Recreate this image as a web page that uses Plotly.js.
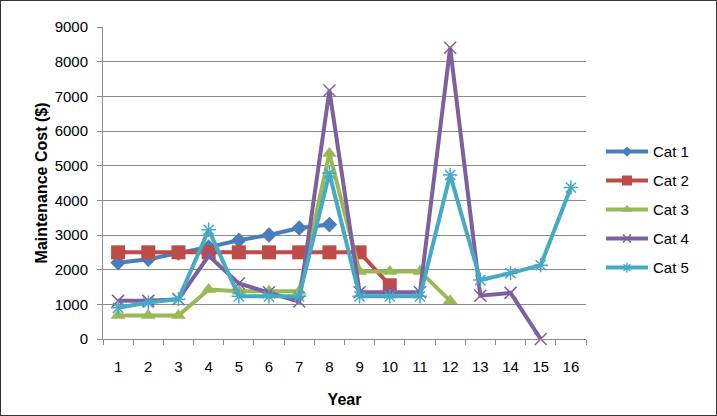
<!DOCTYPE html>
<html><head><meta charset="utf-8">
<script src="https://cdn.plot.ly/plotly-3.0.1.min.js"></script>
<style>
html,body{margin:0;padding:0;background:#fff;}
#wrap{position:relative;width:717px;height:416px;}
#chart{width:717px;height:416px;}
#frame{position:absolute;left:0;top:0;width:717px;height:416px;box-sizing:border-box;border:1px solid #333;pointer-events:none;}
</style></head>
<body>
<div id="wrap"><div id="chart"></div><div id="frame"></div></div>
<script>
const years = [1,2,3,4,5,6,7,8,9,10,11,12,13,14,15,16];
const tickLabels = ["1","2","3","4","5","6","7","8","9","10","11","12","13","14","15","16"];
const cat1 = [2200,2300,2480,2650,2850,3000,3200,3300];
const cat2 = [2500,2500,2500,2500,2500,2500,2500,2500,2500,1550];
const cat3 = [680,680,680,1430,1380,1380,1380,5350,1950,1950,1950,1100];
const cat4 = [1100,1100,1150,2400,1600,1350,1080,7170,1350,1350,1350,8400,1250,1330,0];
const cat5 = [900,1050,1150,3150,1230,1230,1230,4780,1230,1230,1230,4730,1700,1900,2130,4370];
const seriesNames = ["Cat 1","Cat 2","Cat 3","Cat 4","Cat 5"];

const series = [cat1,cat2,cat3,cat4,cat5];
const colors = ["#4a7ebb","#be4b48","#98b954","#7d60a0","#46aac5"];
const symbols = ["diamond","square","triangle-up","x-thin-open","asterisk-open"];
const sizes = [12,14,13,12,12];
const legendSizes = [8,10,9,8,8];
const boundaries = years.map(v => v - 0.5).concat([16.5]);

const traces = series.map((vals,i)=>({
  x: years.slice(0, vals.length),
  y: vals,
  name: seriesNames[i],
  showlegend: false,
  type: 'scatter',
  mode: 'lines+markers',
  line: {color: colors[i], width: 4},
  marker: {symbol: symbols[i], size: sizes[i], color: colors[i], line: {color: colors[i], width: (i>=3?1.5:0)}},
  cliponaxis: false
}));
// legend entries with smaller sample markers
series.forEach((vals,i)=>{
  traces.push({
    x: [null], y: [null], name: seriesNames[i], legendgroup: 'g'+i, showlegend: true,
    type: 'scatter', mode: 'lines+markers', hoverinfo: 'skip',
    line: {color: colors[i], width: 4},
    marker: {symbol: symbols[i], size: legendSizes[i], color: colors[i], line: {color: colors[i], width: (i>=3?1.5:0)}}
  });
});
// invisible trace on secondary x axis for category boundary tick marks
traces.push({x: [0.5], y: [null], xaxis: 'x2', yaxis: 'y', showlegend: false, hoverinfo: 'skip', mode: 'markers'});

const fam = 'Liberation Sans, Arial, sans-serif';
const layout = {
  width: 717, height: 416,
  margin: {l: 103, r: 131, t: 27, b: 77},
  paper_bgcolor: '#fff', plot_bgcolor: '#fff',
  font: {family: fam, size: 15, color: '#000'},
  showlegend: true,
  legend: {x: 1.031, xanchor: 'left', y: 0.414, yanchor: 'middle', font: {size: 15}, itemwidth: 42,
           tracegroupgap: 6.5, traceorder: 'grouped'},
  xaxis: {
    range: [0.5, 16.5], tickmode: 'array', tickvals: years, ticktext: tickLabels,
    showgrid: false, zeroline: false, showline: true, linecolor: '#8c8c8c', linewidth: 1,
    ticks: '', ticklabelstandoff: 14,
    title: {text: 'Year', font: {size: 16, family: fam, weight: 'bold'}, standoff: 19},
    fixedrange: true
  },
  xaxis2: {
    overlaying: 'x', anchor: 'y', side: 'bottom', range: [0.5, 16.5],
    tickmode: 'array', tickvals: boundaries, showticklabels: false,
    ticks: 'outside', ticklen: 5, tickcolor: '#8c8c8c', showgrid: false, zeroline: false, showline: false,
    fixedrange: true
  },
  yaxis: {
    range: [0, 9000], tickmode: 'array', tickvals: [0,1000,2000,3000,4000,5000,6000,7000,8000,9000],
    showgrid: true, gridcolor: '#8c8c8c', gridwidth: 1, zeroline: false,
    showline: true, linecolor: '#8c8c8c', linewidth: 1,
    ticks: 'outside', ticklen: 5, tickcolor: '#8c8c8c', ticklabelstandoff: 6,
    title: {text: 'Maintenance Cost ($)', font: {size: 16, family: fam, weight: 'bold'}, standoff: 3},
    fixedrange: true
  }
};

Plotly.newPlot('chart', traces, layout, {displayModeBar: false, staticPlot: true});
</script>
</body></html>
